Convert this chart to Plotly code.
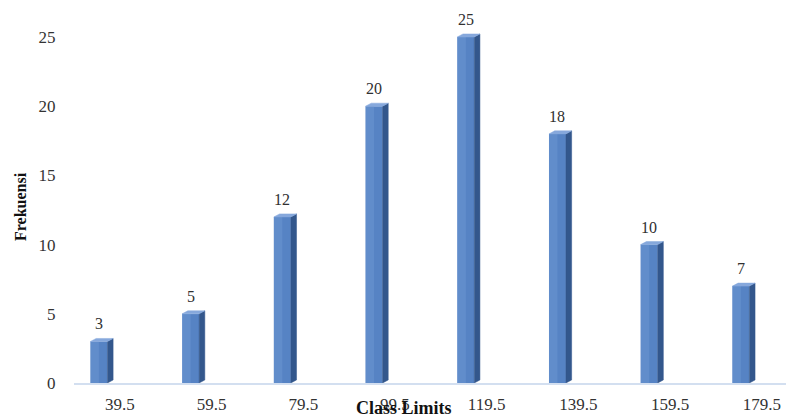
import plotly.graph_objects as go

# Frequency distribution by class limit
class_limits = ["39.5", "59.5", "79.5", "99.5", "119.5", "139.5", "159.5", "179.5"]
frekuensi = [3, 5, 12, 20, 25, 18, 10, 7]
y_ticks = [0, 5, 10, 15, 20, 25]

# Pseudo-3D bar geometry (in axis units)
BAR_SHIFT = -0.228   # front face sits left of the category centre
BAR_W = 0.185        # front face width
DEPTH_X = 0.062      # receding depth, horizontal
DEPTH_Y = 0.22       # receding depth, vertical

FRONT = "#5683c4"
FRONT_LIGHT = "#6c95d2"
SIDE = "#33578c"
TOP = "#86a8dc"

pos = list(range(len(class_limits)))
bar_x = [p + BAR_SHIFT for p in pos]

fig = go.Figure()

# Side faces
for bx, v in zip(bar_x, frekuensi):
    xr = bx + BAR_W / 2
    fig.add_trace(go.Scatter(
        x=[xr, xr + DEPTH_X, xr + DEPTH_X, xr, xr],
        y=[0, DEPTH_Y, v + DEPTH_Y, v, 0],
        fill="toself", fillcolor=SIDE, mode="lines",
        line=dict(width=0.5, color=SIDE), hoverinfo="skip", showlegend=False,
    ))

# Top faces
for bx, v in zip(bar_x, frekuensi):
    xl = bx - BAR_W / 2
    xr = bx + BAR_W / 2
    fig.add_trace(go.Scatter(
        x=[xl, xr, xr + DEPTH_X, xl + DEPTH_X, xl],
        y=[v, v, v + DEPTH_Y, v + DEPTH_Y, v],
        fill="toself", fillcolor=TOP, mode="lines",
        line=dict(width=0.5, color=TOP), hoverinfo="skip", showlegend=False,
    ))

# Front faces
fig.add_trace(go.Bar(
    x=bar_x, y=frekuensi, width=BAR_W,
    marker=dict(color=FRONT, line=dict(width=0)),
    showlegend=False, hoverinfo="y",
))
# Lighter left half for a shaded look
fig.add_trace(go.Bar(
    x=[bx - BAR_W / 4 for bx in bar_x], y=frekuensi, width=BAR_W / 2,
    marker=dict(color=FRONT_LIGHT, opacity=0.55, line=dict(width=0)),
    showlegend=False, hoverinfo="skip",
))

# Value labels above each bar
for bx, v in zip(bar_x, frekuensi):
    fig.add_annotation(
        x=bx, y=v, text=str(v), showarrow=False, yanchor="bottom", yshift=7,
        font=dict(family="Liberation Serif", size=16, color="#303030"),
    )

# Axis titles
fig.add_annotation(
    xref="paper", yref="paper", x=(21 - 74) / 712, y=(383 - 207) / 383,
    text="<b>Frekuensi</b>", textangle=-90, showarrow=False,
    xanchor="center", yanchor="middle",
    font=dict(family="Liberation Serif", size=16, color="#111111"),
)
fig.add_annotation(
    xref="paper", yref="paper", x=(404 - 74) / 712, y=(383 - 408) / 383,
    text="<b>Class Limits</b>", showarrow=False,
    xanchor="center", yanchor="middle",
    font=dict(family="Liberation Serif", size=18, color="#111111"),
)

fig.update_layout(
    width=786, height=419,
    margin=dict(l=74, r=0, t=0, b=36),
    paper_bgcolor="white", plot_bgcolor="white",
    barmode="overlay",
    xaxis=dict(
        range=[-0.5, 7.264], tickmode="array", tickvals=pos, ticktext=class_limits,
        showgrid=False, zeroline=False, showline=True, linecolor="#d3dff0", linewidth=2,
        ticks="outside", ticklen=5, tickcolor="rgba(0,0,0,0)",
        tickfont=dict(family="Liberation Serif", size=17, color="#333333"),
    ),
    yaxis=dict(
        range=[0, 383 / 13.84], tickmode="array", tickvals=y_ticks,
        showgrid=False, zeroline=False, showline=False,
        ticks="outside", ticklen=14, tickcolor="rgba(0,0,0,0)",
        tickfont=dict(family="Liberation Serif", size=17, color="#333333"),
    ),
)

fig.write_html("out.html")
